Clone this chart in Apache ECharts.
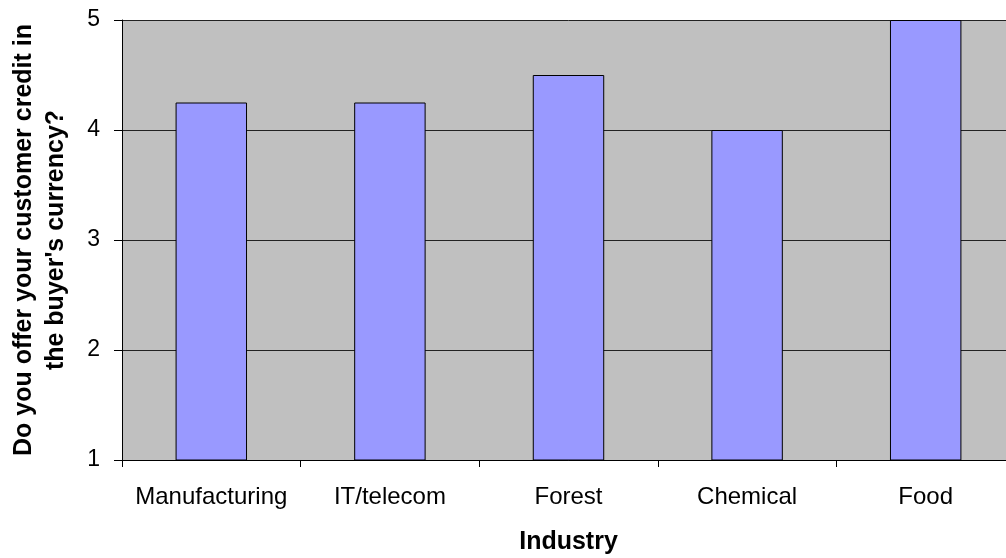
<!DOCTYPE html>
<html>
<head>
<meta charset="utf-8">
<script src="https://cdn.jsdelivr.net/npm/echarts@6/dist/echarts.min.js"></script>
<style>
  html, body { margin: 0; padding: 0; background: #fff; overflow: hidden; }
  /* the plot runs slightly past the right edge of the page */
  #chart { width: 1016px; height: 558px; }
</style>
</head>
<body>
<div id="chart"></div>
<script>
// Average score per industry
const industries = ['Manufacturing', 'IT/telecom', 'Forest', 'Chemical', 'Food'];
const scores = [4.25, 4.25, 4.5, 4.0, 5.0];
const yTicks = [1, 2, 3, 4, 5];

const FONT = 'Liberation Sans, Arial, sans-serif';

const chart = echarts.init(document.getElementById('chart'), null, { renderer: 'canvas' });
chart.setOption({
  animation: false,
  backgroundColor: '#ffffff',
  grid: { left: 122, top: 20, right: 1, bottom: 98, containLabel: false,
          outerBoundsMode: 'none',
          show: true, backgroundColor: '#c0c0c0', borderWidth: 0 },
  xAxis: {
    type: 'category',
    data: industries,
    name: 'Industry',
    nameLocation: 'middle',
    nameGap: 70,
    nameTextStyle: { fontFamily: FONT, fontSize: 25, fontWeight: 'bold', color: '#000' },
    axisLine: { lineStyle: { color: '#000', width: 1 } },
    axisTick: { show: true, interval: 0, length: 7, inside: false, alignWithLabel: false, lineStyle: { color: '#000' } },
    axisLabel: { interval: 0, fontFamily: FONT, fontSize: 24, color: '#000', margin: 25 },
    splitLine: { show: false }
  },
  yAxis: {
    type: 'value',
    min: yTicks[0],
    max: yTicks[yTicks.length - 1],
    interval: 1,
    name: 'Do you offer your customer credit in\nthe buyer\'s currency?',
    nameLocation: 'middle',
    nameGap: 50,
    nameTextStyle: { fontFamily: FONT, fontSize: 25, fontWeight: 'bold', color: '#000', lineHeight: 32, align: 'center' },
    axisLine: { show: true, lineStyle: { color: '#000', width: 1 } },
    axisTick: { show: true, length: 8, lineStyle: { color: '#000' } },
    axisLabel: { fontFamily: FONT, fontSize: 23, color: '#000', margin: 22 },
    splitLine: { show: true, lineStyle: { color: '#222', width: 1 } }
  },
  series: [{
    type: 'bar',
    data: scores,
    barWidth: '40%',
    itemStyle: { color: '#9999ff', borderColor: '#000', borderWidth: 1 }
  }]
});
</script>
</body>
</html>
